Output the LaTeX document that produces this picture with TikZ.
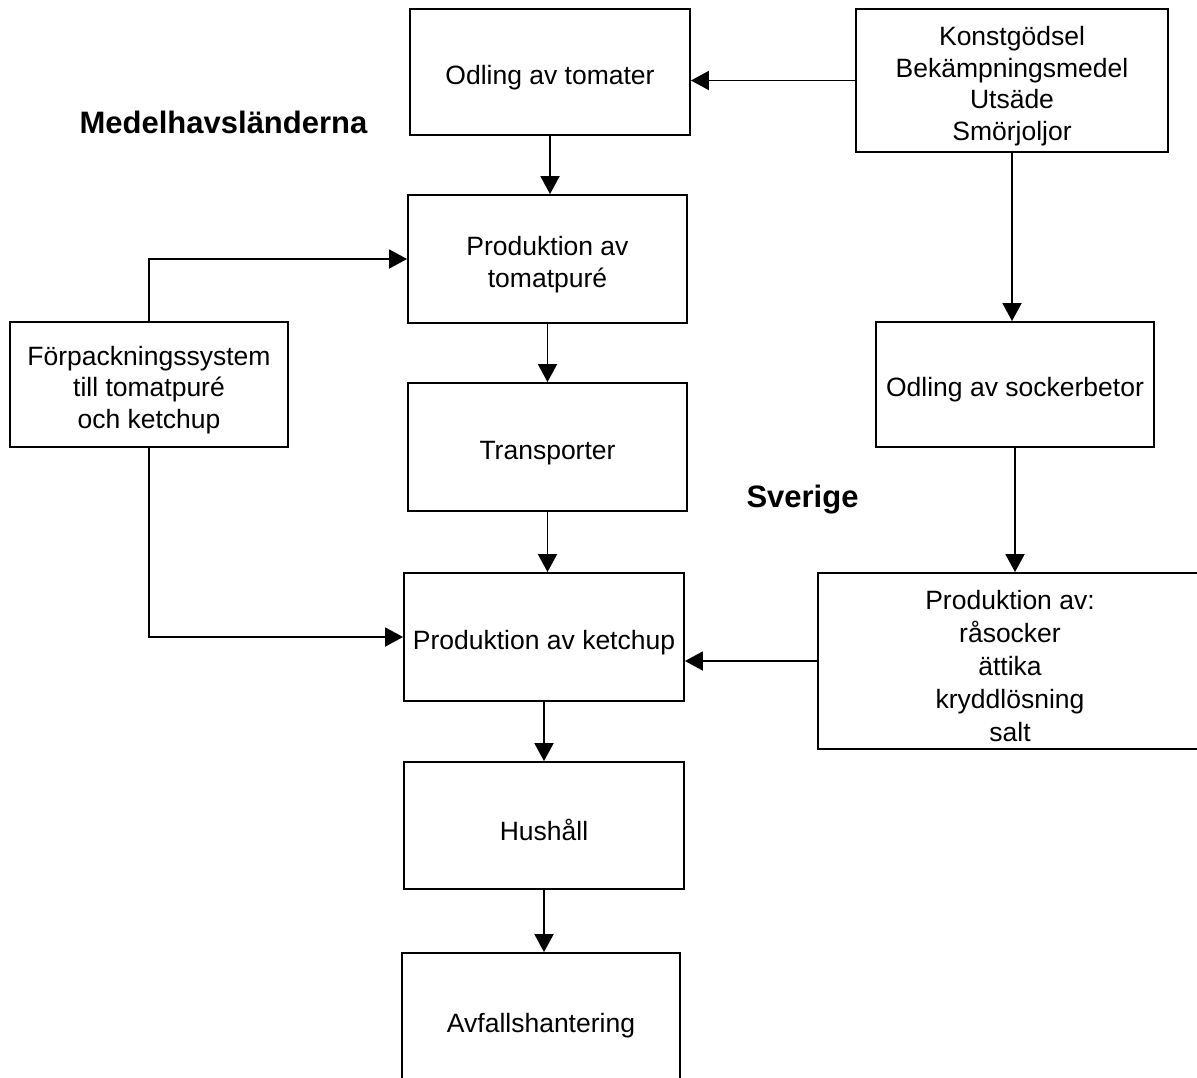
\documentclass[tikz,border=0pt]{standalone}
\usepackage{fontspec}
\setmainfont{Liberation Sans}
\usetikzlibrary{arrows.meta,calc}
\newcommand\dnstrut{\rule{0pt}{30pt}}
\begin{document}
\begin{tikzpicture}[x=1pt,y=-1pt,
  box/.style={draw=black,line width=1.9pt,fill=white,inner sep=2pt,align=center,
    font=\fontsize{26.5}{31.5}\selectfont},
  arr/.style={line width=1.9pt,-{Triangle[length=18pt,width=19pt]}},
  region/.style={font=\fontsize{31}{36}\selectfont\bfseries}]
\clip (0,0) rectangle (1197,1077);
\fill[white] (0,0) rectangle (1197,1077);
% nodes
\node[box,minimum width=280pt,minimum height=126pt] (tom) at (550,72) {\dnstrut Odling av tomater};
\node[box,minimum width=312pt,minimum height=143pt] (konst) at (1012,80.5) {\dnstrut Konstgödsel\\Bekämpningsmedel\\Utsäde\\Smörjoljor};
\node[box,minimum width=279pt,minimum height=128pt] (pure) at (547.5,259) {\dnstrut Produktion av\\tomatpuré};
\node[box,minimum width=278pt,minimum height=125pt] (forp) at (149,384.5) {\dnstrut Förpackningssystem\\till tomatpuré\\och ketchup};
\node[box,minimum width=279pt,minimum height=128pt] (transp) at (547.5,447) {\dnstrut Transporter};
\node[box,minimum width=278pt,minimum height=125pt] (socker) at (1015,384.5) {\dnstrut Odling av sockerbetor};
\node[box,minimum width=280pt,minimum height=128pt] (ketch) at (544,637) {\dnstrut Produktion av ketchup};
\node[box,minimum width=384pt,minimum height=176pt,font=\fontsize{26.5}{33}\selectfont] (prodav) at (1010,661) {\dnstrut Produktion av:\\råsocker\\ättika\\kryddlösning\\salt};
\node[box,minimum width=280pt,minimum height=127pt] (hush) at (544,825.5) {\dnstrut Hushåll};
\node[box,minimum width=278pt,minimum height=134pt] (avf) at (541,1020) {\dnstrut Avfallshantering};
% region labels
\node[region] (med) at (223.5,122) {Medelhavsländerna};
\node[region] (sve) at (802.5,500) {Sverige};
% connectors
\draw[arr] (konst.west) -- (konst.west -| tom.east);
\draw[arr] (tom.south) -- (tom.south |- pure.north);
\draw[arr] (forp.north) |- (pure.west);
\draw[arr] (pure.south) -- (pure.south |- transp.north);
\draw[arr] (transp.south) -- (transp.south |- ketch.north);
\draw[arr] (forp.south) |- (ketch.west);
\draw[arr] (konst.south) -- (konst.south |- socker.north);
\draw[arr] (socker.south) -- (socker.south |- prodav.north);
\draw[arr] (prodav.west) -- (prodav.west -| ketch.east);
\draw[arr] (ketch.south) -- (ketch.south |- hush.north);
\draw[arr] (hush.south) -- (hush.south |- avf.north);
\end{tikzpicture}
\end{document}
